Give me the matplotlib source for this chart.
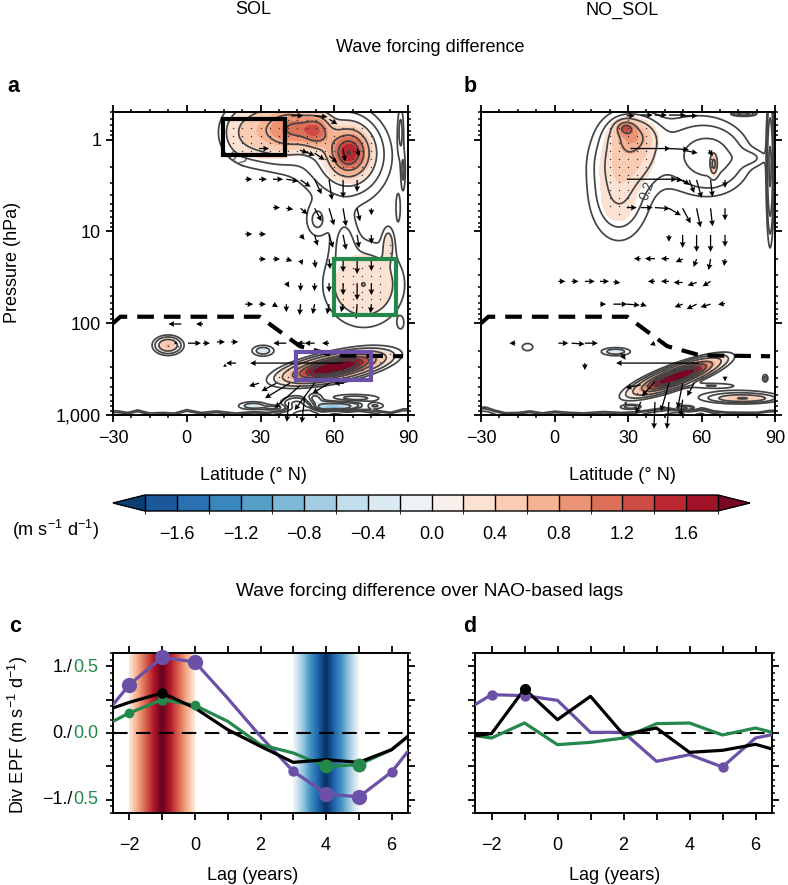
import numpy as np
import matplotlib
matplotlib.use("Agg")
import matplotlib.pyplot as plt
from matplotlib.colors import ListedColormap, BoundaryNorm
from matplotlib.ticker import MultipleLocator, FixedLocator, NullFormatter, LogLocator

plt.rcParams['font.family'] = ['Liberation Sans', 'DejaVu Sans']
plt.rcParams['mathtext.default'] = 'regular'
plt.rcParams['axes.unicode_minus'] = True

W, H = 788, 885
PURPLE, GREEN, BLACK = '#6a50a7', '#23884a', '#000000'
LINEC = '#444444'

# Line panels: lag (years) and difference values
lag = [-2.5, -2, -1, 0, 1, 2, 3, 4, 5, 6, 6.5]
c_purple = [0.425, 0.725, 1.135, 1.065, 0.52, -0.05, -0.575, -0.91, -0.96, -0.585, -0.275]
c_black = [0.375, 0.46, 0.60, 0.375, 0.05, -0.20, -0.44, -0.40, -0.44, -0.25, -0.05]
c_green = [0.175, 0.30, 0.50, 0.415, 0.175, -0.175, -0.30, -0.50, -0.475, -0.25, -0.05]
d_purple = [0.425, 0.575, 0.56, 0.49, 0.01, 0.01, -0.425, -0.325, -0.51, -0.075, -0.025]
d_black = [-0.04, -0.01, 0.66, 0.20, 0.55, -0.025, 0.075, -0.29, -0.26, -0.17, -0.24]
d_green = [-0.04, -0.075, 0.15, -0.175, -0.14, -0.075, 0.14, 0.15, -0.03, 0.075, 0.01]
# (lag, marker size)
c_purple_mark = [(-2, 11), (-1, 11), (0, 11), (3, 7.5), (4, 11), (5, 11), (6, 7.5)]
c_green_mark = [(-2, 7), (-1, 7.5), (0, 7), (4, 10), (5, 10)]
c_black_mark = [(-1, 7.5)]
d_purple_mark = [(-2, 7.5), (-1, 7.5), (5, 7.5)]
d_black_mark = [(-1, 8)]

# Field features: lat, log10(p), sigma lat, sigma log p, amplitude, tilt (dlogp/dlat)
a_shade = [
    (66, 0.14, 5.5, 0.17, 1.6, 0), (25, -0.08, 7, 0.2, 0.42, 0), (37, -0.12, 6, 0.2, 0.62, 0),
    (45, -0.12, 5, 0.14, 0.75, 0), (53, -0.1, 4, 0.13, 1.0, 0), (72, 1.58, 10, 0.28, 0.4, 0),
    (82, 1.13, 1.6, 0.12, 0.25, 0), (60, 2.48, 10.5, 0.07, 2.6, -0.005),
    (-7.6, 2.24, 3, 0.05, 0.62, 0), (61, 2.9, 8, 0.04, -0.5, 0), (27, 2.9, 4, 0.03, -0.3, 0),
    (31, 2.3, 3, 0.04, -0.3, 0), (58, 2.92, 4, 0.02, -0.5, 0),
]
a_line = [
    (65, 0.2, 11, 0.32, 0.36, 0), (48, 0.0, 14, 0.3, 0.14, 0), (53, 0.88, 3, 0.12, 0.22, 0),
    (64, 1.1, 3.5, 0.2, 0.2, 0), (-7.6, 2.24, 3.8, 0.07, 0.18, 0), (60, 2.48, 12, 0.085, 0.25, -0.005),
    (87, -0.1, 0.8, 0.18, 0.22, 0), (86, 0.75, 0.7, 0.12, 0.18, 0), (88, 0.35, 0.6, 0.15, 0.2, 0),
    (87, 2.0, 1, 0.05, 0.15, 0), (45, 2.88, 4, 0.05, 0.5, 0), (52, 2.82, 2.5, 0.04, -0.3, 0),
    (68, 2.82, 7, 0.03, 0.3, 0), (36, 2.92, 3, 0.02, -0.25, 0), (76, 2.9, 3, 0.025, 0.3, 0),
]
b_shade = [
    (29, -0.13, 2.5, 0.05, 0.7, 0), (32, -0.05, 6, 0.12, 0.65, 0), (31, 0.2, 8, 0.18, 0.38, 0),
    (26, 0.6, 7, 0.3, 0.32, 0), (65, 0.27, 1, 0.08, 0.8, 0), (50, 2.58, 9, 0.058, 2.6, -0.0092),
    (77, 2.82, 7, 0.025, 0.6, 0), (25, 2.31, 4, 0.03, -0.3, 0), (31, 2.91, 3, 0.02, -0.3, 0),
    (53, 2.93, 3, 0.02, -0.6, 0), (77, -0.28, 3, 0.015, -0.6, 0), (86, 2.6, 0.8, 0.03, -0.25, 0),
]
b_line = [
    (28, 0.25, 9, 0.42, 0.16, 0), (64, 0.2, 9, 0.22, 0.5, 0), (52, 0.12, 11, 0.28, 0.16, 0),
    (80, 0.2, 5, 0.06, 0.16, 0), (88, 0.3, 0.8, 0.42, 0.9, 0), (-11, 2.26, 2.2, 0.04, 0.16, 0),
    (50, 2.58, 10, 0.07, 0.25, -0.0092), (75, 2.8, 11, 0.05, 0.25, 0), (64, 2.68, 7, 0.02, 0.2, 0),
]
# Surface wiggles: latitude, value and depth of the lowest layer
surface_lat = [-28, -24, -20, -15, -10, -5, 0, 6, 12, 20, 27, 33, 38, 42, 45, 50, 55, 60, 65, 70, 76, 83, 88]
a_surface_val = [0.3, 0.25, 0.35, 0.2, 0.25, 0.2, 0.4, 0.25, 0.3, 0.2, 0.3, 0.3, 0.5, 0.7, 0.9, 1.2, 0.7, 0.9, 0.8, 0.8, 0.5, 0.3, 0.4]
a_surface_depth = [.03, .02, .035, .018, .02, .018, .035, .02, .03, .018, .028, .02, .03, .04, .05, .06, .04, .05, .03, .04, .03, .02, .04]
b_surface_val = [0.6, 0.4, 0.25, 0.25, 0.3, 0.22, 0.3, 0.28, 0.22, 0.3, 0.25, 0.28, 0.5, 0.7, 0.8, 1.0, 0.7, 0.9, 0.5, 0.35, 0.3, 0.3, 0.4]
b_surface_depth = [.045, .03, .018, .02, .03, .018, .028, .02, .018, .025, .02, .025, .03, .035, .04, .045, .04, .04, .025, .02, .02, .02, .03]

# Arrows: lat, pressure, u, v (v < 0 points down the page)
a_arrows = [
    (42.5, .55, 12, 0), (52, .55, 13, -1), (58, .6, 8, -5),
    (29.4, 1.25, 10, 0), (46, 1.3, 8, -3), (48, 1.35, 10, -4), (52, 1.4, 10, -7), (58, 1.5, 8, -7),
    (63.6, 1.25, 2, -13), (69.3, 1.25, 2, -8),
    (23.8, 2.7, 7, 0), (29.4, 2.7, 8, 0), (35.1, 2.7, 10, 0), (40.5, 2.7, 12, -2), (46.3, 2.75, 10, -7),
    (52, 2.7, 7, -15), (57.9, 2.75, 3, -20), (63.6, 2.75, 0, -18), (69.3, 2.75, 0, -12),
    (35.1, 5.5, 7, 0), (40.5, 5.6, 7, -1), (46.3, 5.6, 7, -6), (52, 5.6, 7, -13), (57.9, 5.6, 5, -17),
    (63.6, 5.6, 3, -18), (69.3, 5.6, 3, -13), (75.1, 5.6, 0, -7),
    (23.8, 10.7, 7, 0), (29.4, 10.7, 7, 0), (46.3, 10.9, 4, -5), (52, 10.9, 3, -11), (57.9, 10.9, 4, -13),
    (63.6, 10.9, 3, -15), (69.3, 10.9, 2, -13), (75.1, 10.9, 0, -9),
    (29.4, 20, 7, 0), (35.1, 20, 7, 0), (40.5, 20, 6, -2), (46.3, 20.5, 2, -5), (52, 20.5, 1, -8),
    (57.9, 20, 1, -10), (63.6, 20, 0, -13), (69.3, 20, 0, -15), (75.1, 20, 0, -12),
    (40.5, 36, 3, -5), (46.3, 36.6, 0, -8), (52, 36.6, 0, -8), (57.9, 36.6, 0, -9), (63.6, 36.6, 0, -12),
    (69.3, 36.6, 0, -17), (75.1, 36.6, 0, -12),
    (23.8, 62, 8, 0), (29.4, 62, 7, 0), (35.1, 62, 5, -3), (40.5, 62, 0, -8), (46.3, 62, -1, -11),
    (52, 62, -2, -10), (57.9, 62, -2, -10), (63.6, 62, -2, -8), (69.3, 62, -1, -15), (75.1, 62, -1, -9),
    (-2.2, 102, -13, 0), (6.6, 102, -7, 0),
    (-5, 165, 3, 0), (0.5, 165, 13, 0), (6.6, 165, 7, 0), (12.3, 160, 8, 0), (18.1, 160, 7, 0),
    (40.5, 165, -13, 0), (48, 165, -8, 0), (52, 165, -10, 0), (57.9, 165, -7, 0),
    (63.6, 272, -93, 0), (20, 272, -10, 0), (16, 285, -3, -2),
    (29.4, 450, -10, -3), (36.5, 450, -15, -8), (42, 450, -25, -15), (46, 480, -25, -22),
    (52, 450, -20, -27), (58, 450, -17, -10), (64, 450, -10, 0),
    (41.5, 720, -2, -20), (48, 620, -3, -27),
]
b_arrows = [
    (29.5, .55, 8, 0), (35.2, .54, 12, 0), (41, .54, 12, 0), (46.7, .54, 17, 0), (52.3, .55, 15, 0),
    (31, 1.25, 40, 0), (46.7, 1.25, 20, -1), (52.3, 1.3, 15, -3), (63, 1.3, 4, -6),
    (29.5, 2.7, 50, 0), (49, 2.7, 8, -1), (52.3, 2.75, 7, -5), (55, 2.75, 5, -13), (58, 2.75, 5, -18),
    (63.7, 2.75, 2, -17), (69.6, 2.75, 0, -8),
    (29.5, 5.5, 10, 0), (35.2, 5.5, 12, 0), (41, 5.5, 15, -1), (46.7, 5.6, 12, -7), (52.3, 5.6, 8, -15),
    (58, 5.6, 4, -19), (63.7, 5.6, 2, -18), (69.6, 5.6, 0, -12),
    (46.7, 10.9, 0, -7), (52.3, 10.9, 0, -13), (58, 10.9, 0, -17), (63.7, 10.9, 0, -17), (69.6, 10.9, 0, -12),
    (35.2, 19.8, -7, 0), (41, 19.8, -10, 0), (46.7, 19.8, -8, 0), (52.3, 20, -7, -3), (58, 20, -3, -8),
    (63.7, 20, -2, -11), (69.6, 20, -1, -7),
    (1.6, 35, 7, 0), (7, 35, 7, 0), (12.4, 35, 10, 0), (18.6, 35, 9, 0), (24, 35.5, 7, -1),
    (41, 35, -7, 0), (46.7, 35, -8, 0), (52.3, 36, -9, 0), (58, 36, -9, -3), (63.7, 35, -8, -5),
    (18.6, 62, 6, 0), (24, 62, 14, 0), (29.5, 62, 13, -1), (35.2, 62, 6, -2),
    (52.3, 62, -8, -3), (58, 62, -10, -5), (63.7, 62, -10, -3), (69.6, 61, -7, -1),
    (-16, 165, -6, 0), (1.6, 165, 10, 0), (7, 165, 13, -1), (12.4, 165, 13, 0), (41, 165, -5, -2),
    (12.4, 272, 0, -7), (27, 210, 5, -7), (59, 272, -83, 0),
    (35.2, 470, -15, -3), (41, 430, -13, -15), (46.7, 450, -8, -28), (52.3, 450, -5, -25), (57, 450, -7, -13),
    (69.6, 380, 0, -5), (35.2, 720, -5, -12), (41, 720, -1, -27), (46.7, 720, -2, -27), (52.3, 680, -2, -17),
    (29.5, 740, -3, 0),
]

boxes_a = [(14.7, 39.8, -0.23, 0.17, '#000000'), (60, 85, 1.3, 1.91, GREEN), (44.6, 75, 2.31, 2.62, PURPLE)]
tropopause_lat = [-30, -27, 29.7, 46, 59.5, 88]
tropopause_p = [100, 85, 85, 178, 224, 229]

levels = np.round(np.arange(-1.8, 1.81, 0.2), 1)
contour_levels = [-1.2, -0.8, -0.4, -0.2, -0.1, 0.1, 0.2, 0.4, 0.8, 1.2, 1.6, 2.0]
base = plt.get_cmap('RdBu_r')
cols = [base((i + 0.5) / 20) for i in range(20)]
cmap = ListedColormap(cols[1:-1])
cmap.set_under(cols[0]); cmap.set_over(cols[-1])
norm = BoundaryNorm(levels, cmap.N)

lat_g = np.linspace(-30, 90, 361)
lp_g = np.linspace(-0.3, 3.0, 441)
LAT, LP = np.meshgrid(lat_g, lp_g)


def field(blobs):
    f = np.zeros_like(LAT)
    for la, lp, sa, sp, amp, tilt in blobs:
        f += amp * np.exp(-((LAT - la) / sa) ** 2 / 2 - ((LP - lp - tilt * (LAT - la)) / sp) ** 2 / 2)
    return f


def axes_px(l, t, r, b):
    return fig.add_axes([l / W, 1 - b / H, (r - l) / W, (b - t) / H])


def txt(x, y, s, **k):
    k.setdefault('ha', 'center'); k.setdefault('va', 'center'); k.setdefault('fontsize', FS)
    fig.text(x / W, 1 - y / H, s, **k)


FS = 13
fig = plt.figure(figsize=(W / 100, H / 100), dpi=100)


def style(ax):
    for s in ax.spines.values():
        s.set_linewidth(1.4)
    ax.tick_params(which='major', direction='out', top=True, right=True, length=5, width=1.3, labelsize=FS)
    ax.tick_params(which='minor', direction='out', top=True, right=True, length=2.5, width=1.1)


def map_panel(ax, shade, line, s_val, s_depth, arrows):
    fs = field(shade)
    fl = fs + field(line)
    sv = np.interp(lat_g, surface_lat, s_val)
    sd = np.interp(lat_g, surface_lat, s_depth)
    fl += sv[None, :] * np.exp(-((LP - 3.0) / sd[None, :]) ** 2 / 2)
    fill = np.ma.masked_inside(fs, -0.2, 0.2)
    ax.contourf(LAT, 10 ** LP, fill, levels=levels, cmap=cmap, norm=norm, extend='both')
    ax.contour(LAT, 10 ** LP, fl, levels=contour_levels, colors=LINEC, linewidths=1.25, linestyles='solid')
    dlat = np.arange(-30, 90, 3.75)
    dlp = np.arange(-0.3, 3.0, 0.085)
    DX, DY = np.meshgrid(dlat, dlp)
    ix = np.searchsorted(lat_g, dlat).clip(0, len(lat_g) - 1)
    iy = np.searchsorted(lp_g, dlp).clip(0, len(lp_g) - 1)
    mask = np.abs(fs[np.ix_(iy, ix)]) > 0.24
    ax.plot(DX[mask], 10 ** DY[mask], ls='', marker='o', ms=1.0, color='#333333', mew=0)
    a = np.array(arrows)
    ax.quiver(a[:, 0], a[:, 1], a[:, 2], a[:, 3], angles='uv', scale_units='dots', scale=1, units='dots',
              width=1.3, headwidth=4.5, headlength=4.5, headaxislength=4, color='k', clip_on=False, zorder=4)
    ax.plot(tropopause_lat, tropopause_p, color='k', lw=3, dashes=(4, 2.4), zorder=5)
    ax.set_xlim(-30, 90)
    ax.set_yscale('log')
    ax.set_ylim(1000, 0.5)
    ax.xaxis.set_minor_locator(MultipleLocator(7.5))
    ax.yaxis.set_major_locator(FixedLocator([1, 10, 100, 1000]))
    ax.yaxis.set_minor_locator(LogLocator(base=10, subs=np.arange(2, 10) / 1.0, numticks=12))
    ax.yaxis.set_minor_formatter(NullFormatter())
    ax.set_xticks([-30, 0, 30, 60, 90])
    ax.set_xticklabels(['\u221230', '0', '30', '60', '90'])
    ax.tick_params(axis='x', pad=6)
    style(ax)


axa = axes_px(113, 112, 408, 415)
map_panel(axa, a_shade, a_line, a_surface_val, a_surface_depth, a_arrows)
axa.set_yticklabels(['1', '10', '100', '1,000'])
for x0, x1, y0, y1, c in boxes_a:
    axa.plot([x0, x1, x1, x0, x0], 10.0 ** np.array([y0, y0, y1, y1, y0]), color=c, lw=3, zorder=6,
             solid_joinstyle='miter')
axa.text(20.5, 10 ** 0.22, '0.2', rotation=-30, fontsize=10, color=LINEC, ha='center', va='center')

axb = axes_px(481, 112, 775, 415)
map_panel(axb, b_shade, b_line, b_surface_val, b_surface_depth, b_arrows)
axb.set_yticklabels([])
axb.text(37.6, 10 ** 0.55, '0.2', rotation=70, fontsize=10, color=LINEC, ha='center', va='center')

# colour bar
cax = fig.add_axes([113 / W, 1 - 511 / H, 637 / W, 16 / H])
sm = plt.cm.ScalarMappable(norm=norm, cmap=cmap)
cb = fig.colorbar(sm, cax=cax, orientation='horizontal', extend='both', extendfrac=0.056,
                  drawedges=True, ticks=[-1.6, -1.2, -0.8, -0.4, 0, 0.4, 0.8, 1.2, 1.6])
cb.dividers.set_color('k'); cb.dividers.set_linewidth(1.0)
cb.outline.set_linewidth(1.0)
cb.ax.set_xticklabels(['\u22121.6', '\u22121.2', '\u22120.8', '\u22120.4', '0.0', '0.4', '0.8', '1.2', '1.6'], fontsize=FS)
cb.ax.tick_params(length=0, pad=11)


def line_panel(ax, p, k, g, pm, gm, km):
    ax.plot([-2.5, 6.5], [0, 0], color='k', lw=1.5, dashes=(7, 4), zorder=2)
    for vals, col, lw in ((p, PURPLE, 2.3), (g, GREEN, 2.3), (k, BLACK, 2.3)):
        ax.plot(lag, vals, color=col, lw=lw, zorder=3)
    for marks, vals, col in ((pm, p, PURPLE), (gm, g, GREEN), (km, k, BLACK)):
        for x, s in marks:
            ax.plot([x], [vals[lag.index(x)]], 'o', color=col, ms=s, mew=0, zorder=4, clip_on=False)
    ax.set_xlim(-2.5, 6.5)
    ax.set_ylim(-1.2, 1.2)
    ax.set_xticks(range(-2, 7))
    ax.set_xticklabels(['\u22122', '', '0', '', '2', '', '4', '', '6'])
    ax.yaxis.set_major_locator(MultipleLocator(0.5))
    ax.yaxis.set_minor_locator(MultipleLocator(0.1))
    ax.tick_params(axis='y', labelleft=False)
    ax.tick_params(axis='x', pad=12)
    style(ax)


axc = axes_px(113, 653, 408, 813)
xr = np.linspace(-2, 0, 201)[None, :]
xb = np.linspace(3, 5, 201)[None, :]
axc.imshow(0.5 + 0.5 * (0.12 + 0.88 * (1 - np.abs(xr + 1)) ** 0.9), extent=(-2, 0, -1.2, 1.2), aspect='auto',
           cmap='RdBu_r', vmin=0, vmax=1, zorder=0, interpolation='bilinear')
axc.imshow(0.5 - 0.5 * (1 - np.abs(xb - 4)) ** 0.8, extent=(3, 5, -1.2, 1.2), aspect='auto',
           cmap='RdBu_r', vmin=0, vmax=1, zorder=0, interpolation='bilinear')
line_panel(axc, c_purple, c_black, c_green, c_purple_mark, c_green_mark, c_black_mark)

axd = axes_px(475, 653, 772, 813)
line_panel(axd, d_purple, d_black, d_green, d_purple_mark, [], d_black_mark)

# y labels of panel c in two colours
for y, k_lab, g_lab in ((667, '1./', '0.5'), (733, '0./', '0.0'), (800, '\u22121./', '0.5')):
    txt(98, y, g_lab, ha='right', color=GREEN)
    txt(72.5, y, k_lab, ha='right')

txt(253, 10, 'SOL')
txt(622, 10, 'NO_SOL')
txt(430, 47, 'Wave forcing difference')
txt(430, 591, 'Wave forcing difference over NAO-based lags', fontsize=13.8)
for x, y, s in ((13, 86, 'a'), (470, 86, 'b'), (15, 626, 'c'), (470, 626, 'd')):
    txt(x, y, s, fontsize=15.5, fontweight='bold')
txt(13, 262, 'Pressure (hPa)', rotation=90)
txt(253, 475, 'Latitude (\u00b0 N)')
txt(622, 475, 'Latitude (\u00b0 N)')
txt(55, 530, '(m s$^{-1}$ d$^{-1}$)')
txt(18, 735, 'Div EPF (m s$^{-1}$ d$^{-1}$)', rotation=90)
txt(253, 875, 'Lag (years)')
txt(615, 875, 'Lag (years)')

fig.savefig('out.png', dpi=100)
